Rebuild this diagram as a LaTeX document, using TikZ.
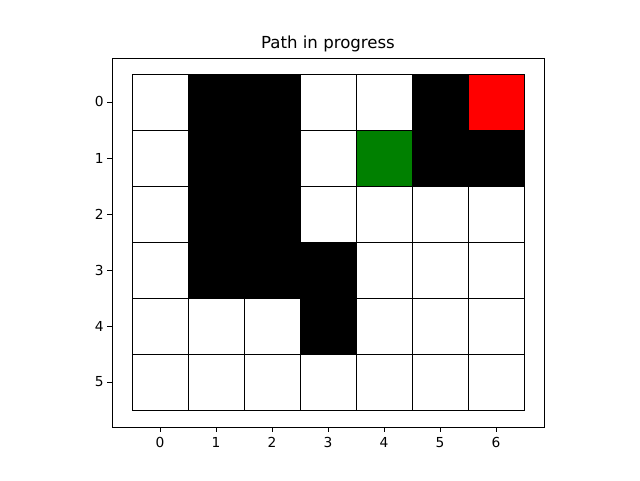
\documentclass[tikz,border=0pt]{standalone}
\usepackage{fontspec}
\setmainfont{DejaVu Sans}
\definecolor{goalred}{HTML}{FF0000}
\definecolor{agentgreen}{HTML}{008000}
\tikzset{
  cellbox/.style={draw=black, line width=0.6pt},
  wallcell/.style={cellbox, fill=black},
  freecell/.style={cellbox, fill=white},
  axisframe/.style={draw=black, line width=0.6pt},
  tickmark/.style={draw=black, line width=0.6pt},
  ticklabel/.style={font=\fontsize{9.8}{11}\selectfont, inner sep=0pt},
  plottitle/.style={font=\fontsize{11.8}{14}\selectfont, inner sep=0pt}
}
\begin{document}
\begin{tikzpicture}[x=1.4cm, y=-1.4cm]
\useasboundingbox (-2.857,-1.821) rectangle (8.571,6.75);
% axes frame
\draw[axisframe] (-0.852,-0.780) rectangle (6.863,5.809);
% grid of cells
\foreach \r in {0,...,5}
  \foreach \c in {0,...,6}
    \draw[freecell] (\c-0.5,\r-0.5) rectangle ++(1,1);
% walls
\foreach \c/\r in {1/0,2/0,5/0,1/1,2/1,5/1,6/1,1/2,2/2,1/3,2/3,3/3,3/4}
  \draw[wallcell] (\c-0.5,\r-0.5) rectangle ++(1,1);
% goal and current position
\draw[cellbox, fill=goalred] (5.5,-0.5) rectangle ++(1,1);
\draw[cellbox, fill=agentgreen] (3.5,0.5) rectangle ++(1,1);
% ticks and labels
\foreach \c in {0,...,6} {
  \draw[tickmark] (\c,5.809) -- (\c,5.896);
  \node[ticklabel, anchor=base] (xl\c) at (\c,6.161) {\c};
}
\foreach \r in {0,...,5} {
  \draw[tickmark] (-0.852,\r) -- (-0.939,\r);
  \node[ticklabel, anchor=east] (yl\r) at (-1.0,\r) {\r};
}
\node[plottitle, anchor=base] (title) at (3.0,-0.955) {Path in progress};
\end{tikzpicture}
\end{document}
